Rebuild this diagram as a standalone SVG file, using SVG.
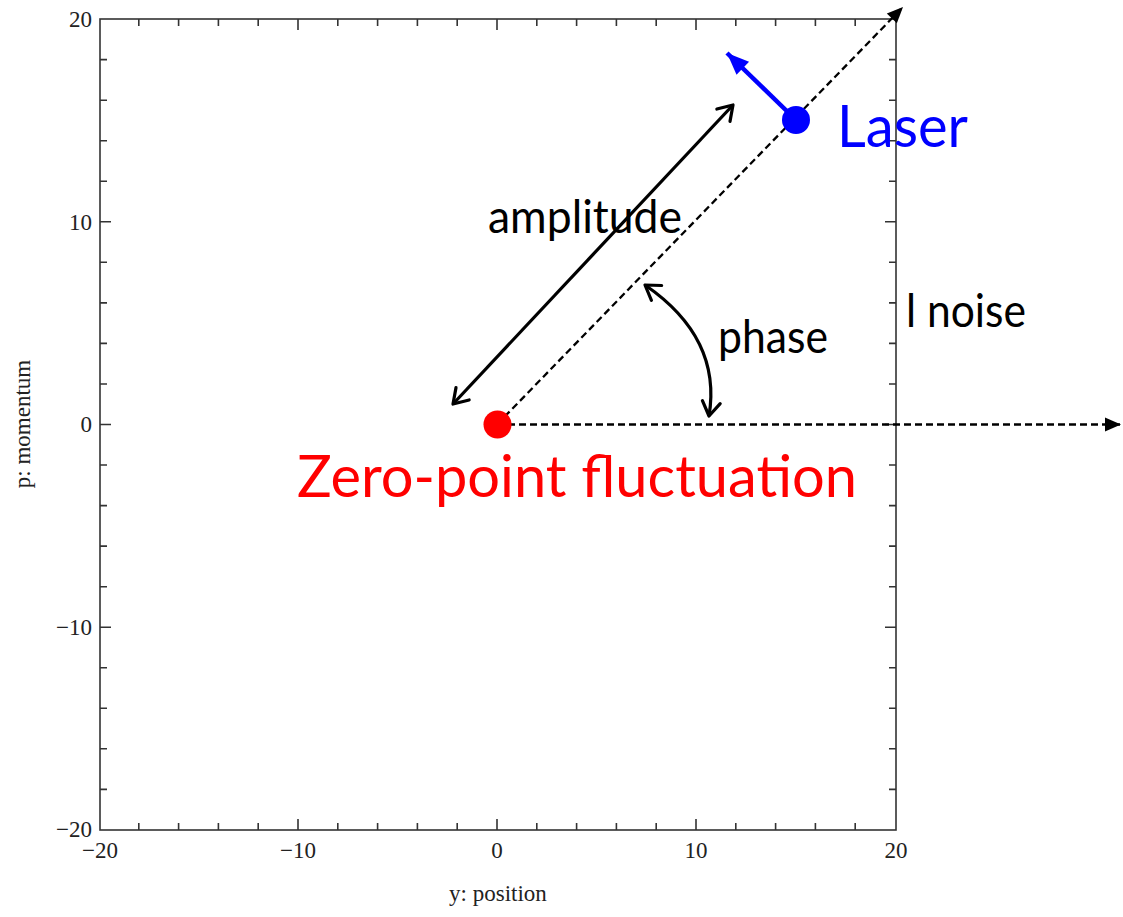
<svg xmlns="http://www.w3.org/2000/svg" width="1123" height="917" viewBox="0 0 1123 917">
<style>
.frame{fill:none;stroke:#333;stroke-width:1.6}
.tick{fill:none;stroke:#333;stroke-width:1.6}
.num{font-family:"Liberation Serif",serif;font-size:23px;fill:#222}
.lbl{font-family:"Lato","Open Sans",sans-serif;font-size:47px;fill:#000}
.big{font-size:58px}
.dash{fill:none;stroke:#000;stroke-width:2.3;stroke-dasharray:7 4}
</style>
<defs>
<marker id="tri" markerUnits="userSpaceOnUse" markerWidth="20" markerHeight="20" viewBox="0 0 20 20" refX="18" refY="10" orient="auto">
<path d="M2,3 L18,10 L2,17 Z" fill="#000"/>
</marker>
<marker id="triBlue" markerUnits="userSpaceOnUse" markerWidth="26" markerHeight="26" viewBox="0 0 26 26" refX="24" refY="13" orient="auto">
<path d="M2,4 L24,13 L2,22 Z" fill="#0000ff"/>
</marker>
<marker id="vee" markerUnits="userSpaceOnUse" markerWidth="24" markerHeight="24" viewBox="0 0 24 24" refX="20" refY="12" orient="auto-start-reverse">
<path d="M6,3 L20,12 L6,21" fill="none" stroke="#000" stroke-width="3.2" stroke-linecap="round" stroke-linejoin="round"/>
</marker>
</defs>
<rect width="1123" height="917" fill="#fff"/>
<g id="axes">
<rect class="frame" x="100" y="19" width="796" height="811"/>
<path class="tick" d="M138.8 830v-7M178.6 830v-7M218.4 830v-7M258.2 830v-7M298 830v-11M337.8 830v-7M377.6 830v-7M417.4 830v-7M457.2 830v-7M497 830v-11M536.8 830v-7M576.6 830v-7M616.4 830v-7M656.2 830v-7M696 830v-11M735.8 830v-7M775.6 830v-7M815.4 830v-7M855.2 830v-7"/>
<path class="tick" d="M138.8 19v7M178.6 19v7M218.4 19v7M258.2 19v7M298 19v11M337.8 19v7M377.6 19v7M417.4 19v7M457.2 19v7M497 19v11M536.8 19v7M576.6 19v7M616.4 19v7M656.2 19v7M696 19v11M735.8 19v7M775.6 19v7M815.4 19v7M855.2 19v7"/>
<path class="tick" d="M100 59.6h7M100 100.2h7M100 140.7h7M100 181.3h7M100 221.8h11M100 262.3h7M100 302.9h7M100 343.4h7M100 384h7M100 424.5h11M100 465h7M100 505.6h7M100 546.1h7M100 586.7h7M100 627.2h11M100 667.7h7M100 708.3h7M100 748.8h7M100 789.4h7"/>
<path class="tick" d="M896 59.6h-7M896 100.2h-7M896 140.7h-7M896 181.3h-7M896 221.8h-11M896 262.3h-7M896 302.9h-7M896 343.4h-7M896 384h-7M896 424.5h-11M896 465h-7M896 505.6h-7M896 546.1h-7M896 586.7h-7M896 627.2h-11M896 667.7h-7M896 708.3h-7M896 748.8h-7M896 789.4h-7"/>
<g class="num" text-anchor="end">
<text x="92" y="27">20</text>
<text x="92" y="230">10</text>
<text x="92" y="432">0</text>
<text x="92" y="635">−10</text>
<text x="92" y="837">−20</text>
</g>
<g class="num" text-anchor="middle">
<text x="100" y="858">−20</text>
<text x="298" y="858">−10</text>
<text x="497" y="858">0</text>
<text x="696" y="858">10</text>
<text x="896" y="858">20</text>
</g>
<text class="num" x="498" y="901" text-anchor="middle">y: position</text>
<text class="num" transform="translate(30,424) rotate(-90)" text-anchor="middle">p: momentum</text>
</g>
<g id="connectors">
<line class="dash" x1="497" y1="424.5" x2="903" y2="7" marker-end="url(#tri)"/>
<line class="dash" x1="497" y1="424.5" x2="1121" y2="424.5" marker-end="url(#tri)"/>
<line x1="796" y1="120" x2="727" y2="53" stroke="#0000ff" stroke-width="4.5" marker-end="url(#triBlue)"/>
<line x1="453" y1="404" x2="733" y2="105" stroke="#000" stroke-width="3.2" marker-start="url(#vee)" marker-end="url(#vee)"/>
<path d="M709 416 Q722 338 645 285" fill="none" stroke="#000" stroke-width="3.2" marker-start="url(#vee)" marker-end="url(#vee)"/>
</g>
<g id="zero-point">
<circle cx="497.5" cy="424.5" r="14" fill="#ff0000"/>
<text class="lbl big" x="297" y="497" style="fill:#ff0000" textLength="560" lengthAdjust="spacingAndGlyphs">Zero-point fluctuation</text>
</g>
<g id="laser">
<circle cx="796" cy="120" r="14" fill="#0000ff"/>
<text class="lbl big" x="837" y="147" style="fill:#0000ff" textLength="131" lengthAdjust="spacingAndGlyphs">Laser</text>
</g>
<g id="labels">
<text class="lbl" x="488" y="233" textLength="194" lengthAdjust="spacingAndGlyphs">amplitude</text>
<text class="lbl" x="718" y="353" textLength="110" lengthAdjust="spacingAndGlyphs">phase</text>
<text class="lbl" x="906" y="327" textLength="120" lengthAdjust="spacingAndGlyphs">l noise</text>
</g>
</svg>
